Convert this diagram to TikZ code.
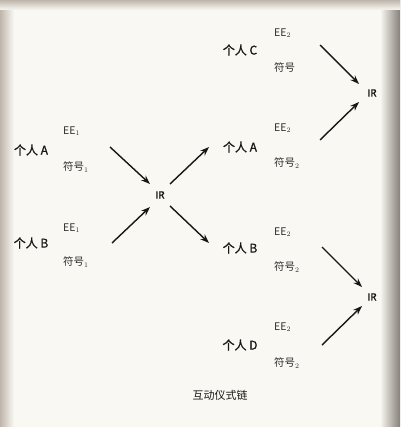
\documentclass[tikz,border=0pt]{standalone}
\usepackage{fontspec}
\setmainfont{Liberation Sans}
\newfontfamily\cjk{Noto Sans CJK SC}
\newfontfamily\cjkm[FakeBold=1.2]{Noto Sans CJK SC}
\usetikzlibrary{arrows.meta}
\definecolor{paper}{RGB}{250,248,243}
\definecolor{edge}{RGB}{190,182,172}
\definecolor{ink}{RGB}{25,22,20}
\tikzset{
  lbl/.style={font=\cjkm\fontsize{12}{14}\selectfont, text=ink, inner sep=0pt},
  sub/.style={font=\cjk\fontsize{10.5}{12}\selectfont, text=ink!90, inner sep=0pt, anchor=west},
  irn/.style={font=\cjkm\fontsize{10}{12}\selectfont, text=ink, inner sep=1pt},
  arr/.style={-{Stealth[length=9pt,width=6.5pt]}, line width=1.4pt, draw=ink},
}
\begin{document}
\begin{tikzpicture}[x=1pt,y=-1pt]
\fill[paper] (0,0) rectangle (400,427);
\shade[left color=edge, right color=paper] (0,0) rectangle (14,427);
\shade[left color=paper, right color=edge!70!black] (380,0) rectangle (400,427);
\shade[top color=edge, bottom color=paper] (0,0) rectangle (400,10);
\useasboundingbox (0,0) rectangle (400,427);

% left column
\node[lbl] (pa1) at (31,150) {个人 A};
\node[sub] (ea1) at (63,131) {EE$_1$};
\node[sub] (sa1) at (63,167) {符号$_1$};
\node[lbl] (pb1) at (31,243) {个人 B};
\node[sub] (eb1) at (63,228) {EE$_1$};
\node[sub] (sb1) at (63,262) {符号$_1$};

\node[irn] (ir1) at (160,195) {IR};

% right column
\node[lbl] (pc) at (240,50) {个人 C};
\node[sub] (ec) at (274,33) {EE$_2$};
\node[sub] (sc) at (274,67) {符号};
\node[lbl] (pa2) at (240,147) {个人 A};
\node[sub] (ea2) at (274,128) {EE$_2$};
\node[sub] (sa2) at (274,163) {符号$_2$};
\node[lbl] (pb2) at (240,248) {个人 B};
\node[sub] (eb2) at (274,232) {EE$_2$};
\node[sub] (sb2) at (274,267) {符号$_2$};
\node[lbl] (pd) at (240,345) {个人 D};
\node[sub] (ed) at (274,327) {EE$_2$};
\node[sub] (sd) at (274,363) {符号$_2$};

\node[irn] (ir2) at (372,93) {IR};
\node[irn] (ir3) at (372,297) {IR};

\node[lbl, font=\cjk\fontsize{11}{13}\selectfont] (cap) at (220,395) {互动仪式链};

% arrow endpoints
\coordinate (s1) at (110,147);
\coordinate (s2) at (112,243);
\coordinate (t1) at (209,147);
\coordinate (t2) at (209,243);
\coordinate (s3) at (320,45);
\coordinate (s4) at (320,140);
\coordinate (s5) at (322,247);
\coordinate (s6) at (322,345);

\draw[arr] (s1) -- (150,184);
\draw[arr] (s2) -- (150,207);
\draw[arr] (170,184) -- (t1);
\draw[arr] (170,206) -- (t2);
\draw[arr] (s3) -- (359,84);
\draw[arr] (s4) -- (359,102);
\draw[arr] (s5) -- (362,287);
\draw[arr] (s6) -- (362,306);
\end{tikzpicture}
\end{document}
